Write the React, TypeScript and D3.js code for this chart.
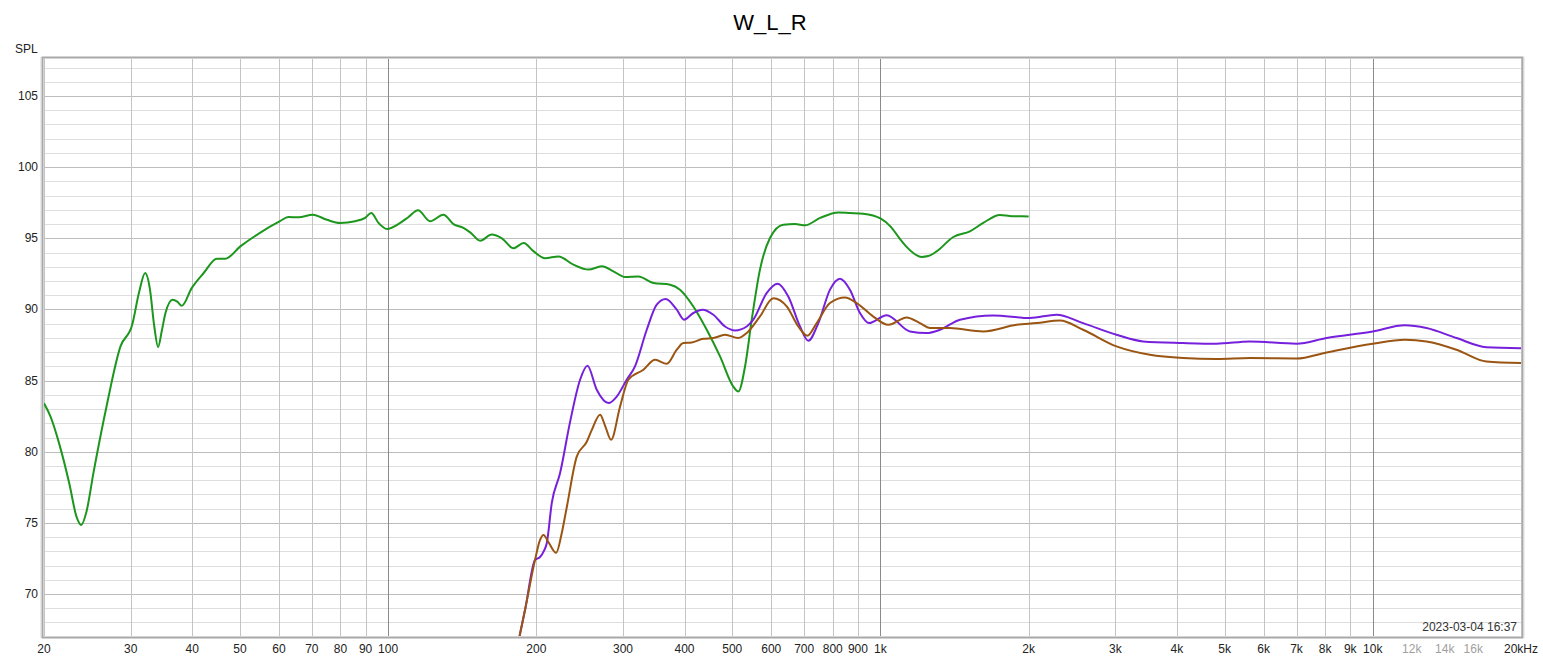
import React from "react";
import * as d3 from "d3";

const TITLE = "W_L_R";
const Y_LABEL = "SPL";
const TIMESTAMP = "2023-03-04 16:37";

const yTicks = [70, 75, 80, 85, 90, 95, 100, 105];
const xLabelTicks: [number, string, boolean][] = [
  [20, "20", false], [30, "30", false], [40, "40", false], [50, "50", false], [60, "60", false],
  [70, "70", false], [80, "80", false], [90, "90", false], [100, "100", false],
  [200, "200", false], [300, "300", false], [400, "400", false], [500, "500", false],
  [600, "600", false], [700, "700", false], [800, "800", false], [900, "900", false],
  [1000, "1k", false], [2000, "2k", false], [3000, "3k", false], [4000, "4k", false],
  [5000, "5k", false], [6000, "6k", false], [7000, "7k", false], [8000, "8k", false],
  [9000, "9k", false], [10000, "10k", false], [12000, "12k", true], [14000, "14k", true],
  [16000, "16k", true], [20000, "20kHz", false],
];

const greenData: [number, number][] = [
  [20, 83.4], [20.6, 82.5], [21.5, 80.5], [22.5, 77.8], [23.3, 75.4], [23.8, 74.85], [24.4, 75.8],
  [25.2, 78.5], [26.8, 83.2], [28.6, 87.4], [30.2, 88.9], [31.2, 91.2], [32.1, 92.56], [32.8, 91.5],
  [33.5, 88.8], [34.1, 87.35], [34.7, 88.5], [35.3, 89.75], [36.5, 90.68], [37.3, 90.55], [38.1, 90.26],
  [39.9, 91.5], [42.2, 92.56], [44.9, 93.57], [46.7, 93.57], [50.1, 94.43], [55, 95.4], [60.3, 96.2],
  [62.7, 96.5], [65.8, 96.47], [70.3, 96.66], [75.1, 96.3], [79.9, 96.08], [85.7, 96.2], [89.8, 96.43],
  [92.4, 96.78], [95.6, 96.08], [99.4, 95.66], [105.8, 96.08], [110, 96.5], [115, 96.97], [121.7, 96.2],
  [129.5, 96.66], [135.7, 96.0], [142.2, 95.73], [147, 95.4], [153.8, 94.83], [162.4, 95.26],
  [170.2, 95.0], [179.7, 94.3], [188.5, 94.67], [197.3, 94.1], [208.4, 93.6], [221.8, 93.72],
  [237.9, 93.15], [255.2, 92.8], [271.6, 93.03], [286.8, 92.68], [302.9, 92.28], [322.3, 92.32],
  [345.8, 91.86], [373.8, 91.74], [391.6, 91.39], [416.8, 90.21], [443.8, 88.57], [472.2, 86.7],
  [502.5, 84.58], [514.4, 84.23], [530.8, 85.99], [547.7, 89.28], [569.2, 92.8], [596.5, 95.02],
  [634.8, 95.96], [670.7, 96.0], [702.8, 95.91], [753.9, 96.43], [821.1, 96.82], [866.9, 96.78],
  [922.8, 96.73], [1000, 96.4], [1050, 95.8], [1095.6, 94.95], [1130, 94.4], [1165.8, 93.97],
  [1212, 93.69], [1250, 93.75], [1300.6, 94.08], [1405.6, 95.09], [1519.6, 95.49], [1617.2, 96.08],
  [1748.2, 96.64], [1850, 96.55], [2000, 96.54],
];

const purpleData: [number, number][] = [
  [184.8, 67.0], [190, 69], [198.8, 72.4], [203.5, 72.6], [207, 73.0], [210, 73.57], [215, 76.4],
  [223.5, 78.5], [234.2, 82.1], [245.4, 85.06], [254, 86.04], [265.3, 84.35], [280.2, 83.42],
  [291.3, 83.88], [305.2, 85.06], [317.3, 86.0], [335.2, 88.57], [351.2, 90.33], [366.3, 90.73],
  [385.7, 89.98], [399, 89.28], [416.8, 89.75], [435.5, 89.98], [457.7, 89.63], [483.4, 88.8],
  [506.6, 88.52], [535, 88.8], [551.7, 89.28], [587.2, 91.15], [618.4, 91.81], [649.8, 90.91],
  [686.4, 88.8], [713.6, 87.8], [747.9, 89.04], [789.8, 91.39], [827.6, 92.16], [866.9, 91.39],
  [908.6, 89.75], [948, 89.04], [1029.4, 89.6], [1147.9, 88.45], [1241, 88.34], [1320.8, 88.57],
  [1450, 89.28], [1694.4, 89.58], [2011.5, 89.4], [2279, 89.63], [2580, 89.04], [3016, 88.22],
  [3416, 87.75], [4119, 87.64], [4815, 87.59], [5627, 87.75], [7000, 87.59], [8054, 87.99],
  [10000, 88.45], [11614, 88.88], [12853, 88.69], [14789, 87.99], [17013, 87.35], [20000, 87.28],
];

const brownData: [number, number][] = [
  [184.8, 67.0], [190, 69], [198.8, 72.4], [203.5, 73.8], [206.8, 74.15], [212, 73.6], [219.4, 72.9],
  [225, 74.2], [230.6, 76.1], [241.6, 79.66], [253.2, 80.7], [259, 81.5], [269.5, 82.6], [276, 81.8],
  [283.7, 80.84], [295.9, 83.18], [307.6, 85.06], [330, 85.76], [348.5, 86.46], [368.1, 86.18],
  [385.7, 87.17], [397.8, 87.64], [413.6, 87.68], [436.8, 87.94], [457.7, 87.99], [483.4, 88.22],
  [514.4, 87.99], [535, 88.34], [569.2, 89.51], [605.8, 90.78], [645, 90.21], [681, 88.8],
  [710.3, 88.15], [742.1, 89.04], [789.8, 90.45], [847.3, 90.84], [894.7, 90.45], [967, 89.5],
  [1037, 88.92], [1130.5, 89.44], [1202.6, 89.04], [1260.5, 88.7], [1384, 88.69], [1617, 88.45],
  [1890, 88.92], [2075, 89.04], [2315, 89.22], [2580, 88.57], [3016, 87.4], [3526, 86.81],
  [4119, 86.58], [4815, 86.51], [5627, 86.58], [7000, 86.55], [8054, 86.98], [10000, 87.59],
  [11614, 87.87], [12853, 87.75], [14789, 87.17], [17013, 86.34], [20000, 86.23],
];

const series = [
  { name: "W", data: greenData, color: "#1c961c" },
  { name: "L", data: purpleData, color: "#7620dc" },
  { name: "R", data: brownData, color: "#9a5512" },
];

const W = 1543;
const H = 661;
const L = 44;
const R = 1521;
const T = 59;
const B = 636;
const FONT = "'Liberation Sans', Arial, sans-serif";

export default function App() {
  const x = d3.scaleLog().domain([20, 20000]).range([L, R]);
  const y = d3.scaleLinear().domain([67.05, 107.6]).range([B, T]);

  const vLines: number[] = [];
  for (const dec of [10, 100, 1000, 10000]) {
    for (let m = 1; m <= 9; m++) {
      const f = dec * m;
      if (f >= 20 && f <= 20000) vLines.push(f);
    }
  }
  vLines.push(20000);

  const hLines = d3.range(68, 108, 1);

  const line = d3
    .line<[number, number]>()
    .x((d) => x(d[0]))
    .y((d) => y(d[1]))
    .curve(d3.curveMonotoneX);

  return (
    <div style={{ position: "absolute", left: 0, top: 0 }}>
      <svg width={W} height={H} style={{ display: "block", background: "#fff" }}>
        <defs>
          <clipPath id="plotclip">
            <rect x={L} y={T} width={R - L} height={B - T} />
          </clipPath>
        </defs>
        <rect x={0} y={0} width={W} height={H} fill="#fff" />
        <text x={770} y={30} textAnchor="middle" fontFamily={FONT} fontSize={22} fill="#000">
          {TITLE}
        </text>
        <text x={15} y={53} fontFamily={FONT} fontSize={12} fill="#222">
          {Y_LABEL}
        </text>

        {/* horizontal grid */}
        {hLines.map((v) => (
          <line
            key={"h" + v}
            x1={L}
            x2={R}
            y1={Math.round(y(v)) + 0.5}
            y2={Math.round(y(v)) + 0.5}
            stroke={v % 5 === 0 ? "#bdbdbd" : "#dedede"}
            strokeWidth={1}
          />
        ))}
        {/* vertical grid */}
        {vLines.map((f) => {
          const isDec = f === 100 || f === 1000 || f === 10000;
          const light = f > 10000;
          return (
            <line
              key={"v" + f}
              x1={Math.round(x(f)) + 0.5}
              x2={Math.round(x(f)) + 0.5}
              y1={T}
              y2={B}
              stroke={isDec ? "#8a8a8a" : light ? "#d6d6d6" : "#c4c4c4"}
              strokeWidth={1}
            />
          );
        })}

        {/* y tick labels */}
        {yTicks.map((v) => (
          <text
            key={"yl" + v}
            x={38}
            y={y(v) + 4}
            textAnchor="end"
            fontFamily={FONT}
            fontSize={12}
            fill="#222"
          >
            {v}
          </text>
        ))}
        {/* x tick labels */}
        {xLabelTicks.map(([f, lab, gray]) => (
          <text
            key={"xl" + f}
            x={x(f)}
            y={653}
            textAnchor="middle"
            fontFamily={FONT}
            fontSize={12}
            fill={gray ? "#a0a0a0" : "#222"}
          >
            {lab}
          </text>
        ))}

        {/* curves */}
        <g clipPath="url(#plotclip)">
          {series.map((s) => (
            <path
              key={s.name}
              d={line(s.data) || ""}
              fill="none"
              stroke={s.color}
              strokeWidth={2}
              strokeLinejoin="round"
            />
          ))}
        </g>

        <text
          x={1517}
          y={631}
          textAnchor="end"
          fontFamily={FONT}
          fontSize={12}
          fill="#333"
        >
          {TIMESTAMP}
        </text>

        {/* frame */}
        <rect
          x={L - 1.5}
          y={T - 1.5}
          width={R - L + 3}
          height={B - T + 3}
          fill="none"
          stroke="#a8a8a8"
          strokeWidth={2}
        />
        <line x1={L - 3} x2={L - 3} y1={T - 2} y2={B + 2} stroke="#d4d4d4" strokeWidth={1} />
        <line x1={R + 3} x2={R + 3} y1={T - 2} y2={B + 2} stroke="#dcdcdc" strokeWidth={1} />
      </svg>
    </div>
  );
}
